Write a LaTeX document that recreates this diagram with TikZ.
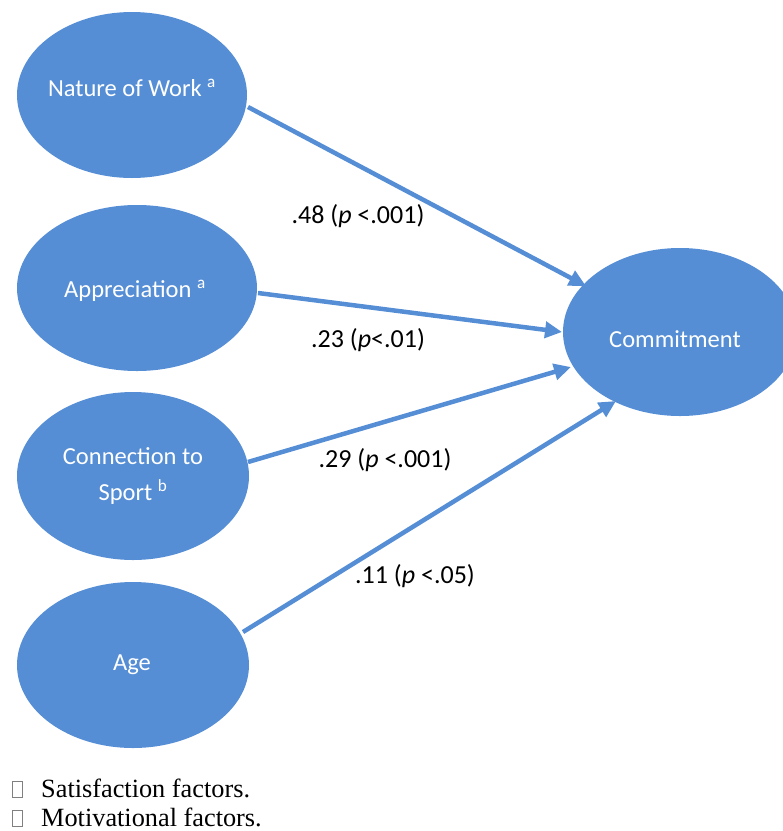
\documentclass[tikz,border=0pt]{standalone}
\usepackage{fontspec}
\setmainfont{Carlito}
\newfontfamily\legendfont{Liberation Serif}
\usetikzlibrary{arrows.meta}
\definecolor{ovalblue}{RGB}{85,142,213}
\begin{document}
\begin{tikzpicture}[x=1pt,y=-1pt,
  ovaltext/.style={text=white,font=\fontsize{24.5}{36}\selectfont,align=center},
  path/.style={draw=ovalblue,line width=4.5pt,-{Triangle[length=17pt,width=16pt]}},
  coef/.style={font=\fontsize{26}{30}\selectfont,text=black}]
\useasboundingbox (0,0) rectangle (783,831);
\begin{scope}
\clip (0,0) rectangle (783,831);
\fill[ovalblue] (132,95) ellipse [x radius=115, y radius=83];
\fill[ovalblue] (137,288) ellipse [x radius=120, y radius=83];
\fill[ovalblue] (133,476) ellipse [x radius=116, y radius=84];
\fill[ovalblue] (133,665) ellipse [x radius=116, y radius=83];
\fill[ovalblue] (680,332) ellipse [x radius=117, y radius=84];
\end{scope}
\node[ovaltext] (nw) at (132,88) {Nature of Work \textsuperscript{a}};
\node[ovaltext] (ap) at (135,291) {Appreciation \textsuperscript{a}};
\node[ovaltext] (cs) at (133,476) {Connection to\\Sport \textsuperscript{b}};
\node[ovaltext] (ag) at (132,665) {Age};
\node[ovaltext] (cm) at (675,339) {Commitment};
\coordinate (nwE) at (248,107);
\coordinate (apE) at (258,293);
\coordinate (csE) at (248,462);
\coordinate (agE) at (243,632);
\coordinate (t1) at (586,286);
\coordinate (t2) at (562,332);
\coordinate (t3) at (571,367);
\coordinate (t4) at (616,401);
\draw[path] (nwE) -- (t1);
\draw[path] (apE) -- (t2);
\draw[path] (csE) -- (t3);
\draw[path] (agE) -- (t4);
\node[coef] (l1) at (358,216) {.48 (\textit{p} <.001)};
\node[coef] (l2) at (368,340) {.23 (\textit{p}<.01)};
\node[coef] (l3) at (385,460) {.29 (\textit{p} <.001)};
\node[coef] (l4) at (415,576) {.11 (\textit{p} <.05)};
\draw[gray,line width=0.6pt] (12.5,781) rectangle (22.5,797);
\draw[gray,line width=0.6pt] (12.5,810) rectangle (22.5,826);
\node[anchor=base west,font=\legendfont\fontsize{26.3}{30}\selectfont,inner sep=0] (s1) at (41,797) {Satisfaction factors.};
\node[anchor=base west,font=\legendfont\fontsize{26.3}{30}\selectfont,inner sep=0] (s2) at (41,826) {Motivational factors.};
\end{tikzpicture}
\end{document}
